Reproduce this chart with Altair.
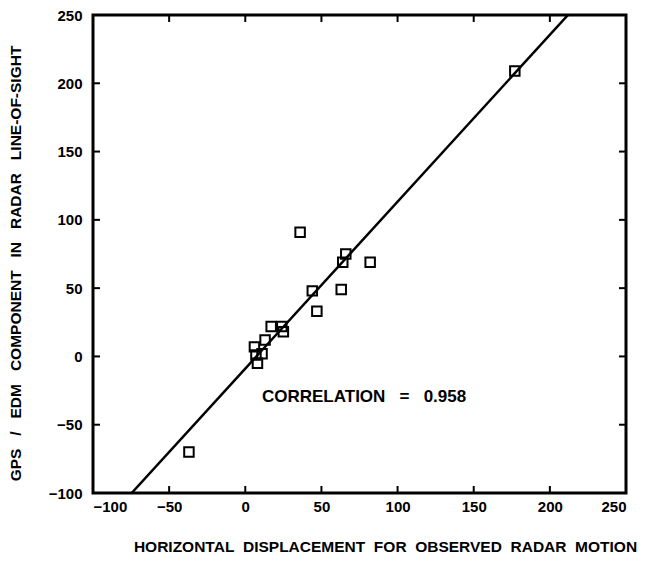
import altair as alt
import pandas as pd

# Data
obs_x = [177, 36, 66, 64, 82, 44, 63, 47, 17, 25, 24, 13, 6, 7, 11, 8, -37]
obs_y = [209, 91, 75, 69, 69, 48, 49, 33, 22, 18, 22, 12, 7, 1, 2, -5, -70]

fit_x = [-74.6, 211.9]
fit_y = [-100, 250]

tick_vals = [-50, 0, 50, 100, 150, 200]
axis_vals = [-100, -50, 0, 50, 100, 150, 200, 250]

W, H = 533, 478
TL = 7

pts = pd.DataFrame({"x": obs_x, "y": obs_y})
fit = pd.DataFrame({"x": fit_x, "y": fit_y})
ticks = pd.DataFrame({"v": tick_vals})

xs = alt.Scale(domain=[-100, 250], nice=False)
ys = alt.Scale(domain=[-100, 250], nice=False)

font = "Liberation Sans"
NB = "\u00a0"

x_title = (NB * 2).join(["HORIZONTAL", "DISPLACEMENT", "FOR", "OBSERVED", "RADAR", "MOTION"])
y_title = (NB * 3).join(["GPS", "/", "EDM", "COMPONENT", "IN", "RADAR", "LINE-OF-SIGHT"])

xaxis = alt.Axis(values=axis_vals, title=x_title, domain=False, ticks=False, grid=False,
                 labelFont=font, labelFontWeight="bold", labelFontSize=15, labelColor="black",
                 labelPadding=6, titleFont=font, titleFontWeight="bold", titleFontSize=15.5,
                 titleColor="black", titlePadding=25, titleX=292)
yaxis = alt.Axis(values=axis_vals, title=y_title, domain=False, ticks=False, grid=False,
                 labelFont=font, labelFontWeight="bold", labelFontSize=15, labelColor="black",
                 labelPadding=11, titleFont=font, titleFontWeight="bold", titleFontSize=15.5,
                 titleColor="black", titlePadding=25, titleY=H / 2 + 9)

points = alt.Chart(pts).mark_point(shape="square", filled=False, size=90, strokeWidth=2,
                                   color="black", opacity=1).encode(
    x=alt.X("x:Q", scale=xs, axis=xaxis),
    y=alt.Y("y:Q", scale=ys, axis=yaxis),
)

line = alt.Chart(fit).mark_line(color="black", strokeWidth=2.5, clip=True).encode(
    x=alt.X("x:Q", scale=xs), y=alt.Y("y:Q", scale=ys))

tb = alt.Chart(ticks).mark_rule(color="black", strokeWidth=2).encode(
    x=alt.X("v:Q", scale=xs), y=alt.value(H), y2=alt.value(H - TL))
tt = alt.Chart(ticks).mark_rule(color="black", strokeWidth=2).encode(
    x=alt.X("v:Q", scale=xs), y=alt.value(0), y2=alt.value(TL))
tlft = alt.Chart(ticks).mark_rule(color="black", strokeWidth=2).encode(
    y=alt.Y("v:Q", scale=ys), x=alt.value(0), x2=alt.value(TL))
trt = alt.Chart(ticks).mark_rule(color="black", strokeWidth=2).encode(
    y=alt.Y("v:Q", scale=ys), x=alt.value(W), x2=alt.value(W - TL))

label = alt.Chart(pd.DataFrame({"x": [78], "y": [-29.5],
                                "t": ["CORRELATION" + NB * 3 + "=" + NB * 3 + "0.958"]})).mark_text(
    font=font, fontWeight="bold", fontSize=17, color="black", align="center", baseline="middle"
).encode(x=alt.X("x:Q", scale=xs), y=alt.Y("y:Q", scale=ys), text="t:N")

chart = alt.layer(line, points, tb, tt, tlft, trt, label).properties(
    width=W, height=H, background="white",
    autosize=alt.AutoSizeParams(type="none"),
    padding={"left": 85, "top": 7, "right": 15, "bottom": 60},
).configure_view(stroke="black", strokeWidth=3)

chart.save("out.html", embed_options={"renderer": "svg", "actions": False})
